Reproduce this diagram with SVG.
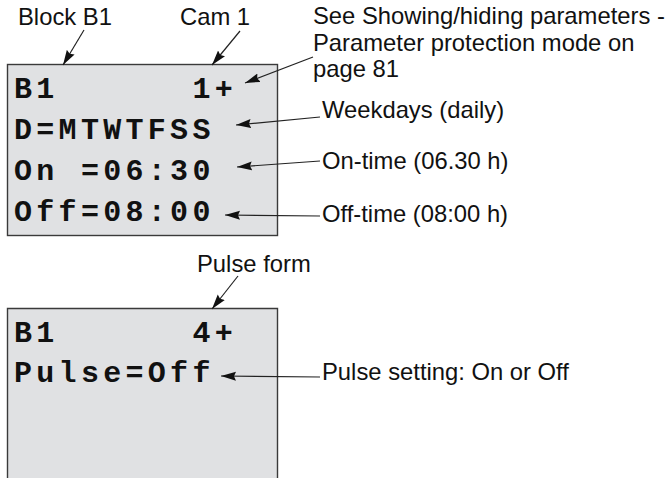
<svg xmlns="http://www.w3.org/2000/svg" width="668" height="478" viewBox="0 0 668 478">
<style>
.lcd{fill:#e0e1e3;stroke:#3a3a3a;stroke-width:1.4}
.d{font-family:"Liberation Mono","DejaVu Sans Mono",monospace;font-weight:bold;font-size:30px;letter-spacing:4.3px;fill:#111}
.l{font-family:"Liberation Sans",Arial,sans-serif;font-size:23.8px;fill:#111}
.c{stroke:#222;stroke-width:1.2;fill:none;marker-end:url(#ah)}
</style>
<defs>
<marker id="ah" markerUnits="userSpaceOnUse" markerWidth="16" markerHeight="10" refX="15" refY="5" orient="auto">
<path d="M0,0.5 L15,5 L0,9.5 L2,5 z" fill="#111"/>
</marker>
</defs>
<rect width="668" height="478" fill="#fff"/>
<g id="display1">
<rect class="lcd" x="7.5" y="64.5" width="270" height="171"/>
<text class="d" x="14" y="98">B1</text>
<text class="d" x="192.4" y="98">1+</text>
<text class="d" x="14" y="139">D=MTWTFSS</text>
<text class="d" x="14" y="180">On =06:30</text>
<text class="d" x="14" y="221">Off=08:00</text>
</g>
<g id="display2">
<path class="lcd" d="M7.5,480 V308.5 H277.5 V480"/>
<text class="d" x="14" y="342">B1</text>
<text class="d" x="192.4" y="342">4+</text>
<text class="d" x="14" y="382">Pulse=Off</text>
</g>
<g id="label-block"><text class="l" x="18" y="25">Block B1</text></g>
<g id="label-cam"><text class="l" x="180" y="25">Cam 1</text></g>
<g id="label-see">
<text class="l" x="313" y="24">See Showing/hiding parameters -</text>
<text class="l" x="313" y="50.5">Parameter protection mode on</text>
<text class="l" x="313" y="77">page 81</text>
</g>
<g id="label-weekdays"><text class="l" x="322" y="118">Weekdays (daily)</text></g>
<g id="label-on"><text class="l" x="322" y="169">On-time (06.30 h)</text></g>
<g id="label-off"><text class="l" x="322" y="222">Off-time (08:00 h)</text></g>
<g id="label-pulseform"><text class="l" x="197" y="272">Pulse form</text></g>
<g id="label-pulsesetting"><text class="l" x="322" y="380">Pulse setting: On or Off</text></g>
<g id="connectors">
<line class="c" x1="84" y1="30" x2="63" y2="65"/>
<line class="c" x1="240" y1="31" x2="212" y2="65"/>
<line class="c" x1="313" y1="57" x2="245" y2="83"/>
<line class="c" x1="320" y1="117" x2="236" y2="125"/>
<line class="c" x1="320" y1="161" x2="237" y2="167"/>
<line class="c" x1="320" y1="216" x2="225" y2="215"/>
<line class="c" x1="238" y1="276" x2="212" y2="309"/>
<line class="c" x1="320" y1="377" x2="221" y2="376"/>
</g>
</svg>
